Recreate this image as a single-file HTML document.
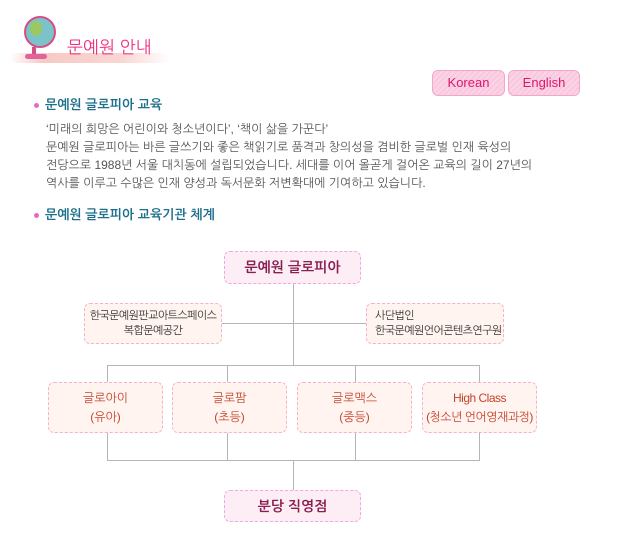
<!DOCTYPE html>
<html><head><meta charset="utf-8"><style>
body{margin:0;width:622px;height:560px;background:#fff;position:relative;font-family:"Liberation Sans","NanumGothic","Noto Sans CJK KR",sans-serif;overflow:hidden}
.a{position:absolute}
.h{position:absolute;left:34px;font-size:13px;font-weight:bold;color:#1d6f8c}
.h:before{content:"";display:inline-block;width:5px;height:5px;border-radius:50%;background:#e86ac0;margin-right:6px;vertical-align:middle}
.p{position:absolute;left:46px;top:120px;font-size:12px;line-height:18px;color:#555}
.bx{position:absolute;box-sizing:border-box;border:1px dashed #f5b3c6;border-radius:6px;background:#fff4ef;text-align:center;font-size:12px;color:#c4442c;line-height:19px;display:flex;flex-direction:column;justify-content:center;white-space:nowrap}
.pk{background:#fdeef6;border-color:#f0a8e0;color:#8a1e50;font-size:14px;font-weight:bold}
.gy{color:#333;font-size:11px;line-height:15px;letter-spacing:-0.6px}
.l{position:absolute;background:#b5b5b5}
.btn{position:absolute;top:70px;height:26px;box-sizing:border-box;border:1px solid #f3a6c8;border-radius:6px;background:repeating-linear-gradient(135deg,#fbc6de 0 2px,#f9d6e7 2px 4px);color:#e0156e;font-size:13px;text-align:center;line-height:24px}
</style></head><body>
<div class="a" style="left:10px;top:53px;width:160px;height:10px;background:linear-gradient(90deg,rgba(248,200,200,0),#f7c9c6 20%,#f9d6d2 70%,rgba(250,220,220,0));border-radius:5px"></div>
<div class="a" style="left:24px;top:16px;width:28px;height:28px;border-radius:50%;background:#7cc3c9;border:2px solid #d34f86"></div>
<div class="a" style="left:30px;top:21px;width:12px;height:15px;border-radius:50%;background:#9cc861"></div>
<div class="a" style="left:32px;top:47px;width:4px;height:8px;background:#d34f86"></div>
<div class="a" style="left:25px;top:54px;width:22px;height:5px;border-radius:3px;background:#e0649a"></div>
<div class="a" style="left:67px;top:37px;font-size:17px;color:#ec2f7f">문예원 안내</div>
<div class="btn" style="left:432px;width:73px">Korean</div>
<div class="btn" style="left:508px;width:72px">English</div>
<div class="h" style="top:97px">문예원 글로피아 교육</div>
<div class="p">‘미래의 희망은 어린이와 청소년이다’, ‘책이 삶을 가꾼다’<br>문예원 글로피아는 바른 글쓰기와 좋은 책읽기로 품격과 창의성을 겸비한 글로벌 인재 육성의<br>전당으로 1988년 서울 대치동에 설립되었습니다. 세대를 이어 올곧게 걸어온 교육의 길이 27년의<br>역사를 이루고 수많은 인재 양성과 독서문화 저변확대에 기여하고 있습니다.</div>
<div class="h" style="top:207px">문예원 글로피아 교육기관 체계</div>

<div class="l" style="left:293px;top:283px;width:1px;height:82px"></div>
<div class="l" style="left:222px;top:323px;width:144px;height:1px"></div>
<div class="l" style="left:107px;top:365px;width:373px;height:1px"></div>
<div class="l" style="left:107px;top:365px;width:1px;height:17px"></div>
<div class="l" style="left:227px;top:365px;width:1px;height:17px"></div>
<div class="l" style="left:355px;top:365px;width:1px;height:17px"></div>
<div class="l" style="left:479px;top:365px;width:1px;height:17px"></div>
<div class="l" style="left:107px;top:432px;width:1px;height:28px"></div>
<div class="l" style="left:227px;top:432px;width:1px;height:28px"></div>
<div class="l" style="left:355px;top:432px;width:1px;height:28px"></div>
<div class="l" style="left:479px;top:432px;width:1px;height:28px"></div>
<div class="l" style="left:107px;top:460px;width:373px;height:1px"></div>
<div class="l" style="left:293px;top:460px;width:1px;height:30px"></div>

<div class="bx pk" style="left:224px;top:251px;width:137px;height:33px">문예원 글로피아</div>
<div class="bx gy" style="left:84px;top:303px;width:138px;height:41px">한국문예원판교아트스페이스<br>복합문예공간</div>
<div class="bx gy" style="left:366px;top:303px;width:138px;height:41px;text-align:left;padding-left:8px">사단법인<br>한국문예원언어콘텐츠연구원</div>
<div class="bx" style="left:48px;top:382px;width:115px;height:51px">글로아이<br>(유아)</div>
<div class="bx" style="left:172px;top:382px;width:115px;height:51px">글로팜<br>(초등)</div>
<div class="bx" style="left:297px;top:382px;width:115px;height:51px">글로맥스<br>(중등)</div>
<div class="bx" style="left:422px;top:382px;width:115px;height:51px;letter-spacing:-0.5px">High Class<br>(청소년 언어영재과정)</div>
<div class="bx pk" style="left:224px;top:490px;width:137px;height:32px">분당 직영점</div>
</body></html>
